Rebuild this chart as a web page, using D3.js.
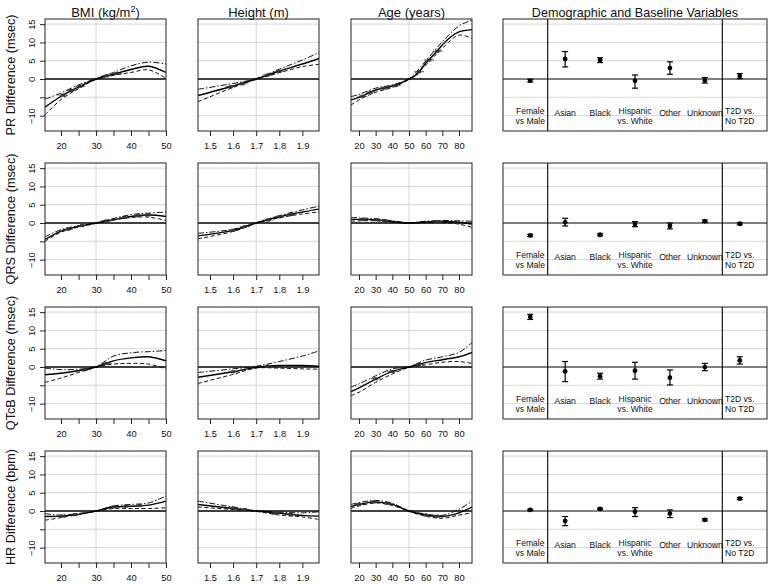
<!DOCTYPE html>
<html><head><meta charset="utf-8">
<script src="https://cdn.jsdelivr.net/npm/d3@7"></script>
<style>
body{margin:0;background:#fff;}
text{font-family:"Liberation Sans",Arial,Helvetica,sans-serif;fill:#111;}
</style></head><body>
<svg id="c" width="772" height="585"></svg>
<script>
// ---------- DATA ----------
const rowTitles = ["PR Difference (msec)", "QRS Difference (msec)", "QTcB Difference (msec)", "HR Difference (bpm)"];
const colTitles = ["BMI", "Height (m)", "Age (years)", "Demographic and Baseline Variables"];
const categories = [["Female","vs Male"],["Asian"],["Black"],["Hispanic","vs. White"],["Other"],["Unknown"],["T2D vs.","No T2D"]];
const yTicks = [-10,-5,0,5,10,15];
const yLabels = [-10,0,5,10,15];
const bmiTicks = [20,25,30,35,40,45,50];
const bmiLabels = [20,30,40,50];
const heightTicks = [1.5,1.6,1.7,1.8,1.9];
const ageTicks = [20,30,40,50,60,70,80];
const refValues = [30, 1.7, 50];

// curves: [x, y]
const prBmi = {
  est:[[15.4,-7.7],[20,-4.7],[25,-2.2],[30,0],[35,1.3],[40,2.6],[45,3.5],[50,1.8]],
  hi:[[15.4,-5.5],[20,-3.8],[25,-1.6],[30,0.1],[35,1.8],[40,3.6],[45,4.6],[50,4.1]],
  lo:[[15.4,-9.8],[20,-5.6],[25,-2.6],[30,-0.1],[35,1.0],[40,1.8],[45,2.5],[50,0.2]],
  bins:[[20.5,-4.4],[23,-3.1],[25.5,-2.0],[33,0.9],[36,1.5]]};
const prHeight = {
  est:[[1.448,-4.5],[1.6,-1.9],[1.7,0],[1.8,2.2],[1.9,4.1],[1.972,5.6]],
  hi:[[1.448,-2.8],[1.6,-1.2],[1.7,0.1],[1.8,2.7],[1.9,5.2],[1.972,7.2]],
  lo:[[1.448,-6.2],[1.6,-2.3],[1.7,-0.1],[1.8,1.7],[1.9,3.4],[1.972,4.0]],
  bins:[[1.59,-2.1],[1.64,-1.3],[1.75,1.1],[1.8,2.1]]};
const prAge = {
  est:[[15.2,-5.7],[20,-5.0],[30,-3.0],[40,-1.9],[50,0],[55,1.4],[60,4.3],[65,6.7],[70,9.3],[75,11.5],[80,12.9],[87.8,13.5]],
  hi:[[15.2,-4.8],[20,-4.2],[30,-2.5],[40,-1.6],[50,0.1],[60,4.9],[70,10.2],[80,14.5],[87.8,16.1]],
  lo:[[15.2,-7.1],[20,-5.7],[30,-3.6],[40,-2.3],[50,-0.1],[60,3.8],[70,8.4],[80,12.0],[87.8,11.1]],
  bins:[[22,-4.7],[27,-3.6],[35,-2.5],[42,-1.8],[56,2.0],[62,5.2],[67,7.6]]};

const qrsBmi = {
  est:[[15.4,-4.5],[20,-2.2],[25,-0.9],[30,0],[35,0.9],[40,1.8],[45,2.2],[50,1.8]],
  hi:[[15.4,-3.8],[20,-1.8],[30,0.1],[40,2.3],[45,2.7],[50,3.0]],
  lo:[[15.4,-5.0],[20,-2.5],[30,-0.1],[40,1.5],[45,1.6],[50,0.7]],
  bins:[[22,-1.7],[26,-0.7],[33,0.6],[38,1.5],[42,2.0],[45,2.2]]};
const qrsHeight = {
  est:[[1.448,-3.5],[1.6,-2.0],[1.7,0],[1.8,1.7],[1.9,3.0],[1.972,3.8]],
  hi:[[1.448,-2.8],[1.6,-1.7],[1.7,0.1],[1.8,2.0],[1.9,3.6],[1.972,4.6]],
  lo:[[1.448,-4.3],[1.6,-2.3],[1.7,-0.1],[1.8,1.4],[1.9,2.5],[1.972,3.0]],
  bins:[[1.6,-2.0],[1.65,-1.0],[1.75,0.8],[1.8,1.7],[1.85,2.3]]};
const qrsAge = {
  est:[[15.2,1.0],[20,1.0],[30,0.9],[40,0.4],[50,0],[60,0.3],[70,0.4],[80,0.2],[87.8,-0.3]],
  hi:[[15.2,1.5],[20,1.4],[30,1.2],[40,0.6],[50,0.1],[60,0.5],[70,0.7],[80,0.6],[87.8,0.5]],
  lo:[[15.2,0.5],[20,0.6],[30,0.6],[40,0.2],[50,-0.1],[60,0.1],[70,0.1],[80,-0.3],[87.8,-1.2]],
  bins:[[22,1.0],[30,0.9],[35,0.7],[67,0.4]]};

const qtBmi = {
  est:[[15.4,-2.1],[20,-1.7],[25,-1.0],[30,0],[35,1.7],[40,2.5],[45,2.8],[50,1.7]],
  hi:[[15.4,-0.3],[20,-0.7],[25,-0.6],[30,0.1],[35,3.0],[40,3.9],[45,4.2],[50,4.5]],
  lo:[[15.4,-4.2],[20,-3.0],[25,-1.5],[30,-0.1],[35,0.8],[40,1.0],[45,0.8],[50,-0.5]],
  bins:[[27,-0.7],[33,1.0]]};
const qtHeight = {
  est:[[1.448,-2.8],[1.6,-1.3],[1.7,-0.1],[1.8,0.4],[1.9,0.4],[1.972,0.2]],
  hi:[[1.448,-1.5],[1.6,-0.5],[1.7,0.2],[1.8,1.5],[1.9,3.0],[1.972,4.4]],
  lo:[[1.448,-4.5],[1.6,-2.0],[1.7,-0.3],[1.8,-0.3],[1.9,-0.5],[1.972,-0.6]],
  bins:[[1.6,-1.3],[1.75,0.2]]};
const qtAge = {
  est:[[15.2,-6.7],[20,-5.7],[30,-3.3],[40,-1.2],[50,0],[60,1.2],[70,2.0],[80,2.8],[87.8,4.0]],
  hi:[[15.2,-5.5],[20,-4.6],[30,-2.4],[40,-0.5],[50,0.1],[60,1.9],[70,2.8],[80,4.0],[87.8,6.7]],
  lo:[[15.2,-7.8],[20,-6.9],[30,-4.2],[40,-1.9],[50,-0.1],[60,0.6],[70,1.3],[80,1.5],[87.8,1.0]],
  bins:[[30,-3.2],[40,-1.2],[56,0.7]]};

const hrBmi = {
  est:[[15.4,-1.5],[20,-1.4],[25,-0.9],[30,0],[35,1.1],[40,1.3],[45,1.6],[50,2.7]],
  hi:[[15.4,-0.7],[20,-1.1],[30,0.1],[35,1.4],[40,1.8],[45,2.2],[50,4.1]],
  lo:[[15.4,-2.5],[20,-1.8],[30,-0.1],[35,0.7],[40,0.7],[45,0.7],[50,0.9]],
  bins:[[20.5,-1.4],[24,-1.0],[35,1.1],[38.5,1.3],[42.5,1.5]]};
const hrHeight = {
  est:[[1.448,1.8],[1.6,0.7],[1.7,0],[1.8,-0.6],[1.9,-1.2],[1.972,-1.4]],
  hi:[[1.448,2.7],[1.6,1.1],[1.7,0.1],[1.8,-0.3],[1.9,-0.5],[1.972,-0.2]],
  lo:[[1.448,1.1],[1.6,0.4],[1.7,-0.1],[1.8,-1.1],[1.9,-1.6],[1.972,-2.3]],
  bins:[[1.6,0.8],[1.65,0.4],[1.78,-0.6],[1.85,-1.0]]};
const hrAge = {
  est:[[15.2,1.2],[20,1.8],[30,2.5],[40,1.8],[50,0],[60,-1.1],[70,-1.5],[80,-0.5],[87.8,1.1]],
  hi:[[15.2,1.8],[20,2.3],[30,2.9],[40,2.1],[50,0.1],[60,-0.8],[70,-1.2],[80,0.5],[87.8,2.7]],
  lo:[[15.2,0.7],[20,1.4],[30,2.2],[40,1.5],[50,-0.1],[60,-1.4],[70,-2.0],[80,-1.1],[87.8,-0.5]],
  bins:[[20,1.8],[29,2.5],[37,2.1],[60,-1.1],[67,-1.4]]};

// demographic estimates: [est, lo, hi]
const prDemo  = [[-0.45,-0.8,-0.1],[5.5,3.3,7.5],[5.2,4.5,5.8],[-0.5,-2.5,1.1],[3.0,1.3,4.7],[-0.4,-1.1,0.4],[0.8,0.1,1.5]];
const qrsDemo = [[-3.4,-3.7,-3.1],[0.2,-0.8,1.3],[-3.2,-3.5,-2.9],[-0.3,-1.0,0.4],[-0.8,-1.6,0.0],[0.5,0.2,0.8],[-0.2,-0.5,0.1]];
const qtDemo  = [[13.7,13.0,14.4],[-1.2,-4.0,1.5],[-2.5,-3.3,-1.7],[-1.0,-3.3,1.3],[-2.9,-4.9,-0.8],[0.0,-1.0,1.0],[1.8,0.8,2.8]];
const hrDemo  = [[0.3,0.1,0.5],[-2.7,-4.0,-1.5],[0.6,0.4,0.8],[-0.2,-1.5,0.9],[-0.7,-1.8,0.3],[-2.4,-2.7,-2.1],[3.4,3.1,3.7]];

const curveRows = [[prBmi,prHeight,prAge],[qrsBmi,qrsHeight,qrsAge],[qtBmi,qtHeight,qtAge],[hrBmi,hrHeight,hrAge]];
const demoRows = [prDemo,qrsDemo,qtDemo,hrDemo];

// ---------- LAYOUT ----------
const svg = d3.select("#c");
const rowTops = [19,163,307,451], rowH = 112;
const colX = [[45,166],[198,319],[351,472]];
const demoX = [503,767];
const xDomains = [[15.4,50],[1.448,1.972],[15.2,87.8]];
const xTickSets = [bmiTicks, heightTicks, ageTicks];
const xLabelSets = [bmiLabels, heightTicks, ageTicks];
const yDomain = [-14.2,16.4];
const grid = "#d6d6d6";

const xScales = colX.map((r,i)=>d3.scaleLinear().domain(xDomains[i]).range(r));
const xDemo = d3.scaleLinear().domain([0.22,7.78]).range(demoX);

// column titles
const titleY = 16.5;
colTitles.forEach((t,i)=>{
  const cx = i<3 ? (colX[i][0]+colX[i][1])/2 : (demoX[0]+demoX[1])/2;
  const tx = svg.append("text").attr("x",cx).attr("y",titleY).attr("text-anchor","middle").attr("font-size",i<3?13:12.6);
  if(i===0){
    tx.append("tspan").text("BMI  (kg/m");
    tx.append("tspan").attr("font-size",9).attr("dy",-5).text("2");
    tx.append("tspan").attr("dy",5).text(")");
  } else tx.text(t);
});

const line = d3.line().curve(d3.curveCatmullRom.alpha(0.5));

rowTops.forEach((top,r)=>{
  const y = d3.scaleLinear().domain(yDomain).range([top+rowH, top]);
  // y title
  svg.append("text").attr("transform",`translate(14.5,${top+rowH/2}) rotate(-90)`)
    .attr("text-anchor","middle").attr("font-size",12.7).text(rowTitles[r]);

  // curve panels
  colX.forEach((cr,c)=>{
    const x = xScales[c];
    const g = svg.append("g");
    g.append("clipPath").attr("id",`cp${r}${c}`).append("rect")
      .attr("x",cr[0]).attr("y",top).attr("width",cr[1]-cr[0]).attr("height",rowH);
    // grid
    g.selectAll(".gh").data(yTicks.filter(d=>d!==0)).join("line")
      .attr("x1",cr[0]).attr("x2",cr[1]).attr("y1",d=>y(d)).attr("y2",d=>y(d))
      .attr("stroke",grid).attr("stroke-width",1);
    g.append("line").attr("x1",x(refValues[c])).attr("x2",x(refValues[c]))
      .attr("y1",top).attr("y2",top+rowH).attr("stroke",grid).attr("stroke-width",1);
    g.append("line").attr("x1",cr[0]).attr("x2",cr[1]).attr("y1",y(0)).attr("y2",y(0))
      .attr("stroke","#000").attr("stroke-width",1.6);
    const d = curveRows[r][c];
    const cg = g.append("g").attr("clip-path",`url(#cp${r}${c})`);
    line.x(p=>x(p[0])).y(p=>y(p[1]));
    cg.append("path").attr("d",line(d.hi)).attr("fill","none").attr("stroke","#111")
      .attr("stroke-width",1).attr("stroke-dasharray","6,2,1.5,2");
    cg.append("path").attr("d",line(d.lo)).attr("fill","none").attr("stroke","#111")
      .attr("stroke-width",1).attr("stroke-dasharray","4,2.5");
    cg.append("path").attr("d",line(d.est)).attr("fill","none").attr("stroke","#000")
      .attr("stroke-width",1.4);
    const b = cg.selectAll(".bin").data(d.bins).join("g");
    b.append("line").attr("x1",p=>x(p[0])-5).attr("x2",p=>x(p[0])+5)
      .attr("y1",p=>y(p[1])).attr("y2",p=>y(p[1])).attr("stroke","#333").attr("stroke-width",0.8);
    b.append("rect").attr("x",p=>x(p[0])-2).attr("y",p=>y(p[1])-1.5).attr("width",4).attr("height",3)
      .attr("fill","#333");
    // frame
    g.append("rect").attr("x",cr[0]).attr("y",top).attr("width",cr[1]-cr[0]).attr("height",rowH)
      .attr("fill","none").attr("stroke","#222").attr("stroke-width",1);
    // x axis
    const ax = g.append("g").attr("transform",`translate(0,${top+rowH})`)
      .call(d3.axisBottom(x).tickValues(xTickSets[c]).tickSize(5).tickPadding(6.5)
        .tickFormat(v=>xLabelSets[c].includes(v)? (c===1? d3.format(".1f")(v): v) : ""));
    ax.select(".domain").remove();
    ax.selectAll("line").attr("stroke","#222");
    ax.selectAll("text").attr("font-size",9.3).attr("fill","#222").attr("font-family",'"Liberation Sans",Arial,sans-serif');
    // y axis only on first column
    if(c===0){
      const ay = g.append("g").attr("transform",`translate(${cr[0]},0)`)
        .call(d3.axisLeft(y).tickValues(yTicks).tickSize(5)
          .tickFormat(v=>yLabels.includes(v)? (v<0? "\u2212"+Math.abs(v): v) : ""));
      ay.select(".domain").remove();
      ay.selectAll("line").attr("stroke","#222");
      ay.selectAll("text").attr("font-size",9.3).attr("fill","#222")
        .attr("font-family",'"Liberation Sans",Arial,sans-serif')
        .attr("x",null).attr("dy",0).attr("text-anchor","middle")
        .attr("transform","translate(-10.5,0) rotate(-90)");
    }
  });

  // demographic panel
  const g = svg.append("g");
  g.selectAll(".gh").data(yTicks.filter(d=>d!==0)).join("line")
    .attr("x1",demoX[0]).attr("x2",demoX[1]).attr("y1",d=>y(d)).attr("y2",d=>y(d))
    .attr("stroke",grid).attr("stroke-width",1);
  g.append("line").attr("x1",demoX[0]).attr("x2",demoX[1]).attr("y1",y(0)).attr("y2",y(0))
    .attr("stroke","#000").attr("stroke-width",1.1);
  [1.5,6.5].forEach(s=>g.append("line").attr("x1",xDemo(s)).attr("x2",xDemo(s))
    .attr("y1",top).attr("y2",top+rowH).attr("stroke","#000").attr("stroke-width",1.1));
  categories.forEach((lab,i)=>{
    const cx = xDemo(i+1);
    const t = g.append("text").attr("x",cx).attr("text-anchor","middle").attr("font-size",8.6).attr("fill","#222");
    if(lab.length===1){ t.attr("y",top+96.7).text(lab[0]); }
    else {
      t.append("tspan").attr("x",cx).attr("y",top+94.7).text(lab[0]);
      t.append("tspan").attr("x",cx).attr("y",top+105).text(lab[1]);
    }
  });
  const pts = g.selectAll(".pt").data(demoRows[r]).join("g");
  pts.append("line").attr("x1",(d,i)=>xDemo(i+1)).attr("x2",(d,i)=>xDemo(i+1))
    .attr("y1",d=>y(d[1])).attr("y2",d=>y(d[2])).attr("stroke","#000").attr("stroke-width",1.2);
  [1,2].forEach(k=>pts.append("line").attr("x1",(d,i)=>xDemo(i+1)-3).attr("x2",(d,i)=>xDemo(i+1)+3)
    .attr("y1",d=>y(d[k])).attr("y2",d=>y(d[k])).attr("stroke","#000").attr("stroke-width",1.2));
  pts.append("circle").attr("cx",(d,i)=>xDemo(i+1)).attr("cy",d=>y(d[0])).attr("r",2.4).attr("fill","#000");
  g.append("rect").attr("x",demoX[0]).attr("y",top).attr("width",demoX[1]-demoX[0]).attr("height",rowH)
    .attr("fill","none").attr("stroke","#222").attr("stroke-width",1);
});
</script>
</body></html>
